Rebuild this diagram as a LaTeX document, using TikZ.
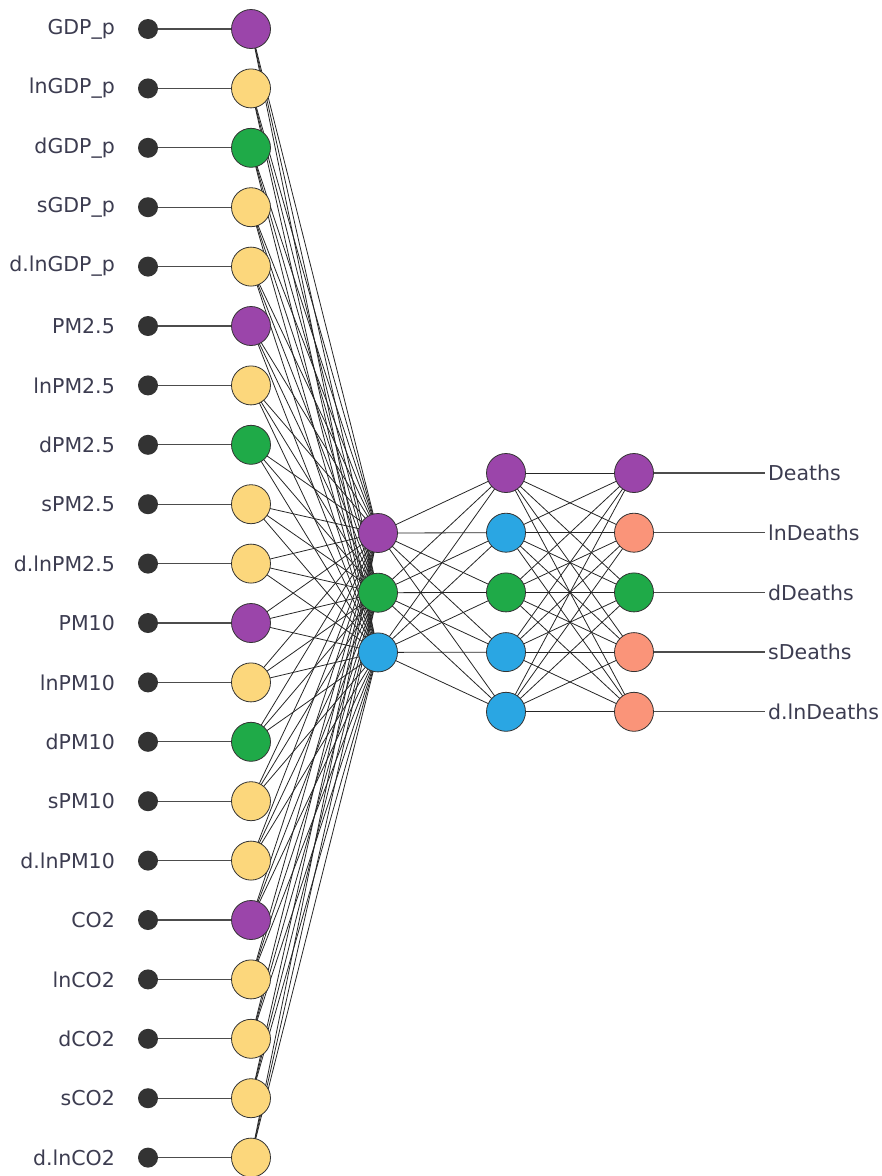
\documentclass[tikz,border=0pt]{standalone}
\usepackage{fontspec}
\setmainfont{DejaVu Sans}
\definecolor{cpurple}{HTML}{9B45AA}
\definecolor{cyellow}{HTML}{FCD77C}
\definecolor{cgreen}{HTML}{1FAA48}
\definecolor{cblue}{HTML}{2AA6E3}
\definecolor{csalmon}{HTML}{FA9479}
\definecolor{cdot}{HTML}{333333}
\definecolor{ctext}{HTML}{3C3C50}
\tikzset{
  neuron/.style={circle, draw=black!80, line width=0.8pt, minimum size=39pt, inner sep=0pt},
  indot/.style={circle, fill=cdot, minimum size=20pt, inner sep=0pt},
  lab/.style={font=\fontsize{20.5}{24}\selectfont, text=ctext, inner sep=0pt},
  link/.style={draw=black!85, line width=0.8pt},
  feed/.style={draw=black!70, line width=1.3pt}
}
\begin{document}
\begin{tikzpicture}[x=1pt,y=-1pt]
\useasboundingbox (0,0) rectangle (882,1176);
% inputs
\foreach \name/\col [count=\i from 0] in {GDP\_p/cpurple, lnGDP\_p/cyellow, dGDP\_p/cgreen, sGDP\_p/cyellow, d.lnGDP\_p/cyellow,
  PM2.5/cpurple, lnPM2.5/cyellow, dPM2.5/cgreen, sPM2.5/cyellow, d.lnPM2.5/cyellow,
  PM10/cpurple, lnPM10/cyellow, dPM10/cgreen, sPM10/cyellow, d.lnPM10/cyellow,
  CO2/cpurple, lnCO2/cyellow, dCO2/cyellow, sCO2/cyellow, d.lnCO2/cyellow} {
  \pgfmathsetmacro{\yy}{29+59.4*\i}
  \node[lab, anchor=east] (t\i) at (115,\yy) {\name};
  \node[indot] (d\i) at (148,\yy) {};
  \coordinate (c\i) at (251,\yy);
}
% hidden 1
\foreach \col [count=\j from 0] in {cpurple,cgreen,cblue} {
  \pgfmathsetmacro{\yy}{533+59.7*\j}
  \coordinate (h\j) at (378,\yy);
}
% hidden 2
\foreach \col [count=\j from 0] in {cpurple,cblue,cgreen,cblue,cblue} {
  \pgfmathsetmacro{\yy}{473+59.7*\j}
  \coordinate (g\j) at (506,\yy);
}
% outputs
\foreach \name [count=\j from 0] in {Deaths,lnDeaths,dDeaths,sDeaths,d.lnDeaths} {
  \pgfmathsetmacro{\yy}{473+59.7*\j}
  \coordinate (o\j) at (634,\yy);
  \node[lab, anchor=west] (u\j) at (768,\yy) {\name};
}
% connections
\foreach \i in {0,...,19} {
  \draw[feed] (d\i) -- (c\i);
  \foreach \j in {0,1,2} { \draw[link] (c\i) -- (h\j); }
}
\foreach \j in {0,1,2} { \foreach \k in {0,...,4} { \draw[link] (h\j) -- (g\k); } }
\foreach \k in {0,...,4} {
  \foreach \m in {0,...,4} { \draw[link] (g\k) -- (o\m); }
  \draw[feed] (o\k) -- ([xshift=-3pt]u\k.west);
}
% neurons on top
\foreach \col [count=\i from 0] in {cpurple,cyellow,cgreen,cyellow,cyellow,cpurple,cyellow,cgreen,cyellow,cyellow,cpurple,cyellow,cgreen,cyellow,cyellow,cpurple,cyellow,cyellow,cyellow,cyellow} {
  \node[neuron, fill=\col] (n\i) at (c\i) {};
}
\foreach \col [count=\j from 0] in {cpurple,cgreen,cblue} { \node[neuron, fill=\col] (nh\j) at (h\j) {}; }
\foreach \col [count=\j from 0] in {cpurple,cblue,cgreen,cblue,cblue} { \node[neuron, fill=\col] (ng\j) at (g\j) {}; }
\foreach \col [count=\j from 0] in {cpurple,csalmon,cgreen,csalmon,csalmon} { \node[neuron, fill=\col] (no\j) at (o\j) {}; }
\end{tikzpicture}
\end{document}
